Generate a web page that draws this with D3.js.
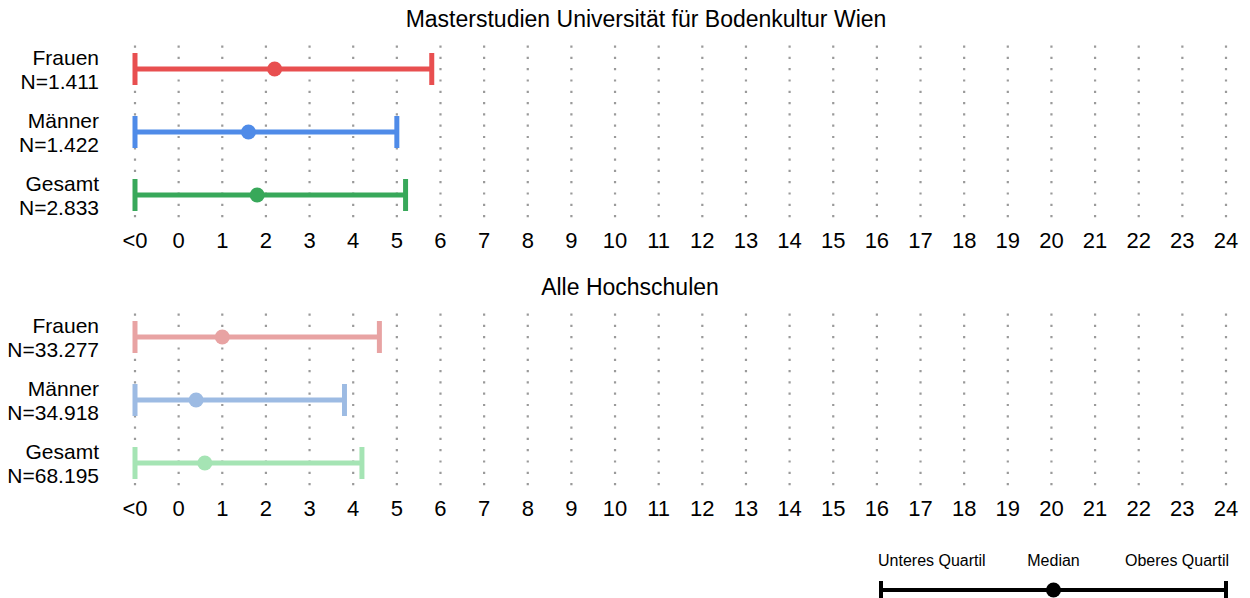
<!DOCTYPE html>
<html lang="de">
<head>
<meta charset="UTF-8">
<title>Masterstudien BOKU</title>
<script src="https://cdn.jsdelivr.net/npm/d3@7"></script>
<style>
  body { margin: 0; background: #fff; }
  text { font-family: "Liberation Sans", Arial, sans-serif; fill: #000; }
</style>
</head>
<body>
<script>
// tick labels: first position stands for "<0"
var tickValues = d3.range(-1, 25);
var tickLabels = ["<0"].concat(d3.range(0, 25).map(String));

var groups = ["Frauen", "Männer", "Gesamt"];

// panel 1
var bokuN      = ["1.411", "1.422", "2.833"];
var bokuLower  = [-1, -1, -1];
var bokuMedian = [2.2, 1.6, 1.8];
var bokuUpper  = [5.8, 5.0, 5.2];

// panel 2
var allN      = ["33.277", "34.918", "68.195"];
var allLower  = [-1, -1, -1];
var allMedian = [1.0, 0.4, 0.6];
var allUpper  = [4.6, 3.8, 4.2];

var width = 1250, height = 598;

var svg = d3.select("body").append("svg")
    .attr("width", width)
    .attr("height", height);

var x = d3.scaleLinear().domain([-1, 24]).range([135, 1226]);

function panel(title, titleX, off, nVals, lower, median, upper, colors) {
    var g = svg.append("g").attr("transform", "translate(0," + off + ")");
    var y = d3.scalePoint().domain(groups).range([69, 195]);

    g.append("text")
        .attr("x", titleX).attr("y", 27)
        .attr("text-anchor", "middle")
        .style("font-size", "23px")
        .text(title);

    // dotted vertical grid
    g.selectAll(".grid")
        .data(tickValues)
        .enter().append("line")
        .attr("x1", d => x(d)).attr("x2", d => x(d))
        .attr("y1", 45.5).attr("y2", 218)
        .attr("stroke", "#9a9a9a")
        .attr("stroke-width", 2.2)
        .attr("stroke-dasharray", "2.2,9.1");

    // tick labels
    g.selectAll(".tick")
        .data(tickValues)
        .enter().append("text")
        .attr("x", d => x(d)).attr("y", 248)
        .attr("text-anchor", "middle")
        .style("font-size", "22px")
        .text((d, i) => tickLabels[i]);

    var rows = g.selectAll(".row")
        .data(groups)
        .enter().append("g")
        .attr("transform", d => "translate(0," + y(d) + ")");

    rows.append("text")
        .attr("x", 99).attr("y", -4)
        .attr("text-anchor", "end")
        .style("font-size", "21px")
        .text(d => d);
    rows.append("text")
        .attr("x", 99).attr("y", 20)
        .attr("text-anchor", "end")
        .style("font-size", "21px")
        .text((d, i) => "N=" + nVals[i]);

    rows.append("line")
        .attr("x1", (d, i) => x(lower[i])).attr("x2", (d, i) => x(upper[i]))
        .attr("stroke", (d, i) => colors[i]).attr("stroke-width", 5);
    rows.append("line")
        .attr("x1", (d, i) => x(lower[i])).attr("x2", (d, i) => x(lower[i]))
        .attr("y1", -16).attr("y2", 16)
        .attr("stroke", (d, i) => colors[i]).attr("stroke-width", 5);
    rows.append("line")
        .attr("x1", (d, i) => x(upper[i])).attr("x2", (d, i) => x(upper[i]))
        .attr("y1", -16).attr("y2", 16)
        .attr("stroke", (d, i) => colors[i]).attr("stroke-width", 5);
    rows.append("circle")
        .attr("cx", (d, i) => x(median[i]))
        .attr("r", 7.5)
        .attr("fill", (d, i) => colors[i]);
}

panel("Masterstudien Universität für Bodenkultur Wien", 646, 0,
      bokuN, bokuLower, bokuMedian, bokuUpper,
      ["#e84f50", "#4f8be8", "#38a85a"]);
panel("Alle Hochschulen", 630, 268,
      allN, allLower, allMedian, allUpper,
      ["#e8a3a3", "#9dbbe3", "#a5e4b4"]);

// legend
var legendLabels = ["Unteres Quartil", "Median", "Oberes Quartil"];
var lx = d3.scaleLinear().domain([0, 1]).range([881, 1226]);
var leg = svg.append("g");
leg.append("line")
    .attr("x1", lx(0)).attr("x2", lx(1))
    .attr("y1", 590).attr("y2", 590)
    .attr("stroke", "#000").attr("stroke-width", 4);
[0, 1].forEach(function (v) {
    leg.append("line")
        .attr("x1", lx(v)).attr("x2", lx(v))
        .attr("y1", 581).attr("y2", 605)
        .attr("stroke", "#000").attr("stroke-width", 4);
});
leg.append("circle").attr("cx", lx(0.5)).attr("cy", 590).attr("r", 7.5).attr("fill", "#000");
leg.selectAll(".lt")
    .data(legendLabels)
    .enter().append("text")
    .attr("x", (d, i) => [lx(0) - 3, lx(0.5), lx(1) + 3][i])
    .attr("y", 566)
    .attr("text-anchor", (d, i) => ["start", "middle", "end"][i])
    .style("font-size", "16px")
    .text(d => d);
</script>
</body>
</html>
